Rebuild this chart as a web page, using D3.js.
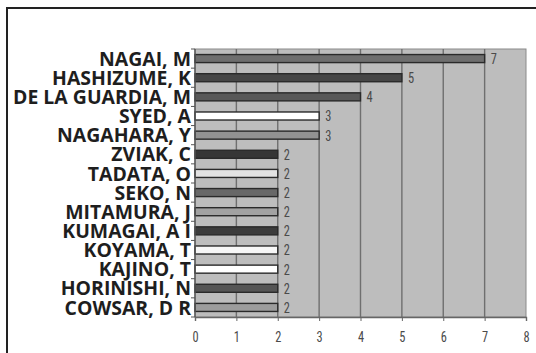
<!DOCTYPE html>
<html>
<head>
<meta charset="utf-8">
<script src="https://cdn.jsdelivr.net/npm/d3@7"></script>
<style>
  html, body { margin: 0; padding: 0; background: #fff; }
  svg { display: block; }
  .name { font-family: "Open Sans", sans-serif; font-weight: 700; fill: #1e1e1e; }
  .num  { font-family: "Liberation Sans Narrow", "Roboto Condensed", "Roboto", sans-serif; fill: #4a4a4a; }
</style>
</head>
<body>
<div id="chart"></div>
<script>
const names  = ["NAGAI, M", "HASHIZUME, K", "DE LA GUARDIA, M", "SYED, A", "NAGAHARA, Y",
                "ZVIAK, C", "TADATA, O", "SEKO, N", "MITAMURA, J", "KUMAGAI, A I",
                "KOYAMA, T", "KAJINO, T", "HORINISHI, N", "COWSAR, D R"];
const counts = [7, 5, 4, 3, 3, 2, 2, 2, 2, 2, 2, 2, 2, 2];
const fills  = ["#6e6e6e", "#464646", "#585858", "#ffffff", "#929292",
                "#363636", "#e2e2e2", "#686868", "#a2a2a2", "#3c3c3c",
                "#f6f6f6", "#ffffff", "#555555", "#9c9c9c"];
const xTicks = [0, 1, 2, 3, 4, 5, 6, 7, 8];

const W = 536, H = 353;
const plot = { left: 195, right: 526, top: 49, bottom: 317 };
const labelRight = 191, labelLeft = 13; // widest label spans this in the reference

const svg = d3.select("#chart").append("svg")
  .attr("width", W).attr("height", H);

// outer frame (top + left only visible)
svg.append("path")
  .attr("d", `M7,${H + 2} L7,8 L${W + 2},8`)
  .attr("fill", "none").attr("stroke", "#222").attr("stroke-width", 2);

const x = d3.scaleLinear().domain([0, 8]).range([plot.left, plot.right]);
const y = d3.scaleBand().domain(names).range([plot.top, plot.bottom]).paddingInner(0.58).paddingOuter(0.29);

// plot background
svg.append("rect")
  .attr("x", plot.left).attr("y", plot.top)
  .attr("width", plot.right - plot.left).attr("height", plot.bottom - plot.top)
  .attr("fill", "#bdbdbd").attr("stroke", "#8a8a8a").attr("stroke-width", 1);

// vertical grid
svg.append("g")
  .selectAll("line")
  .data(xTicks.slice(1, -1))
  .join("line")
  .attr("x1", d => x(d)).attr("x2", d => x(d))
  .attr("y1", plot.top).attr("y2", plot.bottom)
  .attr("stroke", "#6f6f6f").attr("stroke-width", 1.4);

// bars
svg.append("g")
  .selectAll("rect")
  .data(names)
  .join("rect")
  .attr("x", x(0))
  .attr("y", d => y(d))
  .attr("width", (d, i) => x(counts[i]) - x(0))
  .attr("height", y.bandwidth())
  .attr("fill", (d, i) => fills[i])
  .attr("stroke", "#2a2a2a").attr("stroke-width", 1.4);

// value labels (narrow digits)
svg.append("g")
  .selectAll("text")
  .data(names)
  .join("text")
  .attr("class", "num")
  .attr("transform", (d, i) => `translate(${x(counts[i]) + 6},${y(d) + y.bandwidth() / 2}) scale(0.8,1)`)
  .attr("dy", "0.35em")
  .attr("font-size", 15.5)
  .text((d, i) => counts[i]);

// x axis
const ax = svg.append("g")
  .attr("transform", `translate(0,${plot.bottom})`)
  .call(d3.axisBottom(x).tickValues(xTicks).tickSize(4).tickPadding(10).tickFormat(d3.format("d")));
ax.select(".domain").attr("stroke", "#666").attr("stroke-width", 1.4);
ax.selectAll(".tick line").attr("stroke", "#666");
ax.selectAll("text").attr("class", "num").attr("font-size", 15.5).attr("fill", "#4a4a4a")
  .attr("transform", "scale(0.8,1)");

// y axis line with ticks at band edges
const step = y.step();
const edges = d3.range(names.length + 1).map(i => plot.top + i * step);
svg.append("line")
  .attr("x1", plot.left).attr("x2", plot.left)
  .attr("y1", plot.top).attr("y2", plot.bottom)
  .attr("stroke", "#555").attr("stroke-width", 1.4);
svg.append("g")
  .selectAll("line")
  .data(edges)
  .join("line")
  .attr("x1", plot.left - 4).attr("x2", plot.left)
  .attr("y1", d => d).attr("y2", d => d)
  .attr("stroke", "#555");

// category labels: size by cap height, then squeeze to the reference width
const labels = svg.append("g")
  .selectAll("text")
  .data(names)
  .join("text")
  .attr("class", "name")
  .attr("x", 0)
  .attr("y", 0)
  .attr("dy", "0.36em")
  .attr("text-anchor", "end")
  .attr("font-size", 20)
  .text(d => d);

const widest = d3.max(labels.nodes(), n => n.getComputedTextLength());
const sx = Math.min(1, (labelRight - labelLeft) / widest);
labels.attr("transform", d => `translate(${labelRight},${y(d) + y.bandwidth() / 2}) scale(${sx},1)`);
</script>
</body>
</html>
